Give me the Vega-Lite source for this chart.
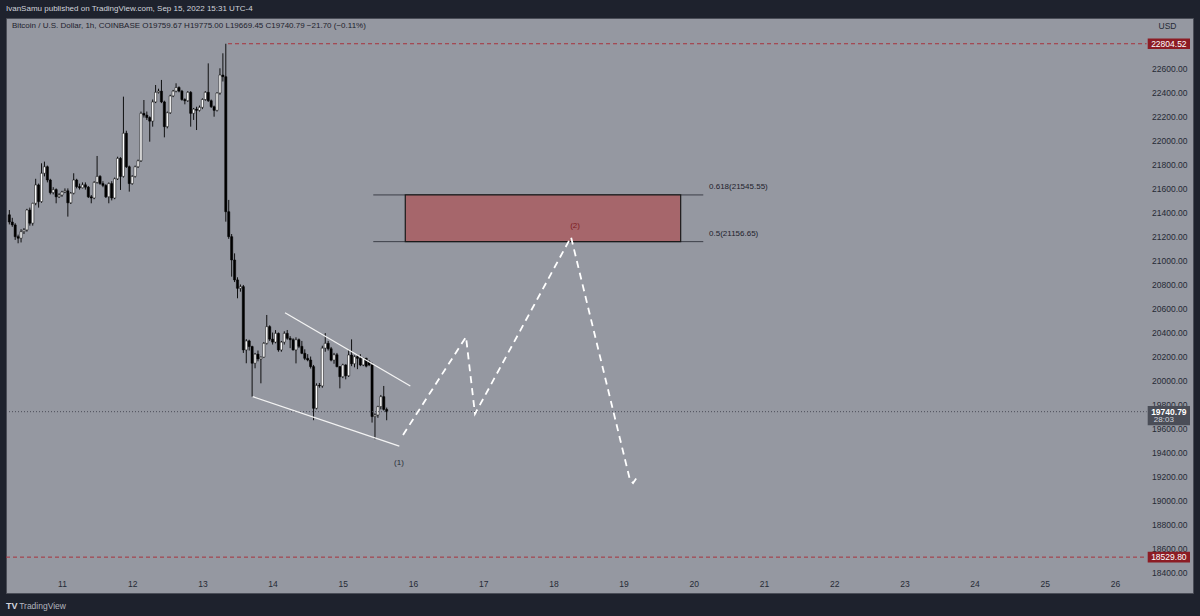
{
"$schema": "https://vega.github.io/schema/vega-lite/v6.json",
"width": 1187, "height": 575,
"autosize": {"type": "none"},
"padding": {"left": 6, "top": 18, "right": 7, "bottom": 23},
"background": "#1e222d",
"title": {"text": "IvanSamu published on TradingView.com, Sep 15, 2022 15:31 UTC-4", "anchor": "start", "frame": "group", "offset": 5, "fontSize": 8, "fontWeight": "normal", "color": "#d1d4dc", "font": "Liberation Sans"},
"config": {
  "view": {"fill": "#9598a1", "stroke": "#4a4d57"},
  "font": "Liberation Sans",
  "axis": {"grid": false, "domain": false, "ticks": false, "labelFont": "Liberation Sans", "labelFontSize": 8.5, "labelColor": "#262a35", "labelOverlap": false, "labelFlush": false, "title": null},
  "text": {"font": "Liberation Sans", "fontSize": 8}
},
"datasets": {
  "candles": [
    {"t":10.2500,"o":21380,"h":21420,"l":21300,"c":21320},
    {"t":10.2917,"o":21320,"h":21355,"l":21280,"c":21296},
    {"t":10.3333,"o":21296,"h":21310,"l":21171,"c":21198},
    {"t":10.3750,"o":21198,"h":21215,"l":21143,"c":21185},
    {"t":10.4167,"o":21185,"h":21260,"l":21150,"c":21240},
    {"t":10.4583,"o":21240,"h":21270,"l":21220,"c":21254},
    {"t":10.5000,"o":21254,"h":21430,"l":21240,"c":21420},
    {"t":10.5417,"o":21420,"h":21440,"l":21290,"c":21310},
    {"t":10.5833,"o":21310,"h":21480,"l":21290,"c":21476},
    {"t":10.6250,"o":21476,"h":21680,"l":21460,"c":21629},
    {"t":10.6667,"o":21629,"h":21640,"l":21440,"c":21490},
    {"t":10.7083,"o":21490,"h":21809,"l":21480,"c":21726},
    {"t":10.7500,"o":21726,"h":21823,"l":21700,"c":21780},
    {"t":10.7917,"o":21780,"h":21790,"l":21650,"c":21670},
    {"t":10.8333,"o":21670,"h":21680,"l":21550,"c":21565},
    {"t":10.8750,"o":21565,"h":21610,"l":21550,"c":21590},
    {"t":10.9167,"o":21590,"h":21600,"l":21476,"c":21530},
    {"t":10.9583,"o":21530,"h":21560,"l":21520,"c":21545},
    {"t":11.0000,"o":21545,"h":21580,"l":21530,"c":21570},
    {"t":11.0417,"o":21570,"h":21600,"l":21560,"c":21580},
    {"t":11.0833,"o":21580,"h":21600,"l":21365,"c":21480},
    {"t":11.1250,"o":21480,"h":21570,"l":21470,"c":21560},
    {"t":11.1667,"o":21560,"h":21726,"l":21550,"c":21670},
    {"t":11.2083,"o":21670,"h":21680,"l":21600,"c":21615},
    {"t":11.2500,"o":21615,"h":21640,"l":21590,"c":21605},
    {"t":11.2917,"o":21605,"h":21650,"l":21600,"c":21630},
    {"t":11.3333,"o":21630,"h":21650,"l":21590,"c":21610},
    {"t":11.3750,"o":21610,"h":21620,"l":21520,"c":21530},
    {"t":11.4167,"o":21530,"h":21545,"l":21476,"c":21520},
    {"t":11.4583,"o":21520,"h":21660,"l":21510,"c":21650},
    {"t":11.5000,"o":21650,"h":21870,"l":21640,"c":21700},
    {"t":11.5417,"o":21700,"h":21710,"l":21630,"c":21640},
    {"t":11.5833,"o":21640,"h":21660,"l":21610,"c":21625},
    {"t":11.6250,"o":21625,"h":21635,"l":21520,"c":21530},
    {"t":11.6667,"o":21530,"h":21650,"l":21476,"c":21640},
    {"t":11.7083,"o":21640,"h":21660,"l":21500,"c":21520},
    {"t":11.7500,"o":21520,"h":21690,"l":21510,"c":21680},
    {"t":11.7917,"o":21680,"h":21864,"l":21670,"c":21850},
    {"t":11.8333,"o":21850,"h":21860,"l":21587,"c":21700},
    {"t":11.8750,"o":21700,"h":22364,"l":21690,"c":22059},
    {"t":11.9167,"o":22059,"h":22080,"l":21770,"c":21780},
    {"t":11.9583,"o":21780,"h":21790,"l":21573,"c":21640},
    {"t":12.0000,"o":21640,"h":21710,"l":21630,"c":21700},
    {"t":12.0417,"o":21700,"h":21790,"l":21690,"c":21780},
    {"t":12.0833,"o":21780,"h":21840,"l":21770,"c":21830},
    {"t":12.1250,"o":21830,"h":22240,"l":21820,"c":22225},
    {"t":12.1667,"o":22225,"h":22336,"l":22190,"c":22210},
    {"t":12.2083,"o":22210,"h":22240,"l":22170,"c":22190},
    {"t":12.2500,"o":22190,"h":22200,"l":21989,"c":22160},
    {"t":12.2917,"o":22160,"h":22340,"l":22114,"c":22320},
    {"t":12.3333,"o":22320,"h":22461,"l":22310,"c":22400},
    {"t":12.3750,"o":22400,"h":22430,"l":22390,"c":22410},
    {"t":12.4167,"o":22410,"h":22503,"l":22310,"c":22320},
    {"t":12.4583,"o":22320,"h":22330,"l":22025,"c":22114},
    {"t":12.5000,"o":22114,"h":22240,"l":22100,"c":22230},
    {"t":12.5417,"o":22230,"h":22380,"l":22220,"c":22370},
    {"t":12.5833,"o":22370,"h":22420,"l":22360,"c":22410},
    {"t":12.6250,"o":22410,"h":22475,"l":22400,"c":22440},
    {"t":12.6667,"o":22440,"h":22450,"l":22400,"c":22410},
    {"t":12.7083,"o":22410,"h":22420,"l":22330,"c":22340},
    {"t":12.7500,"o":22340,"h":22350,"l":22300,"c":22330},
    {"t":12.7917,"o":22330,"h":22410,"l":22320,"c":22400},
    {"t":12.8333,"o":22400,"h":22410,"l":22114,"c":22225},
    {"t":12.8750,"o":22225,"h":22270,"l":22170,"c":22260},
    {"t":12.9167,"o":22260,"h":22280,"l":22086,"c":22250},
    {"t":12.9583,"o":22250,"h":22290,"l":22240,"c":22275},
    {"t":13.0000,"o":22275,"h":22350,"l":22260,"c":22340},
    {"t":13.0417,"o":22340,"h":22410,"l":22330,"c":22400},
    {"t":13.0833,"o":22400,"h":22641,"l":22320,"c":22330},
    {"t":13.1250,"o":22330,"h":22340,"l":22270,"c":22280},
    {"t":13.1667,"o":22280,"h":22290,"l":22197,"c":22250},
    {"t":13.2083,"o":22250,"h":22400,"l":22240,"c":22394},
    {"t":13.2500,"o":22394,"h":22600,"l":22380,"c":22544},
    {"t":13.2917,"o":22544,"h":22725,"l":22490,"c":22530},
    {"t":13.3333,"o":22530,"h":22804.52,"l":21323,"c":21406},
    {"t":13.3750,"o":21406,"h":21504,"l":21180,"c":21198},
    {"t":13.4167,"o":21198,"h":21220,"l":20865,"c":21004},
    {"t":13.4583,"o":21004,"h":21059,"l":20820,"c":20838},
    {"t":13.5000,"o":20838,"h":20860,"l":20685,"c":20768},
    {"t":13.5417,"o":20768,"h":20800,"l":20740,"c":20782},
    {"t":13.5833,"o":20782,"h":20796,"l":20230,"c":20255},
    {"t":13.6250,"o":20255,"h":20345,"l":20144,"c":20330},
    {"t":13.6667,"o":20330,"h":20340,"l":20250,"c":20283},
    {"t":13.7083,"o":20283,"h":20290,"l":19866,"c":20144},
    {"t":13.7500,"o":20144,"h":20230,"l":20102,"c":20220},
    {"t":13.7917,"o":20220,"h":20250,"l":20160,"c":20180},
    {"t":13.8333,"o":20180,"h":20200,"l":19977,"c":20195},
    {"t":13.8750,"o":20195,"h":20320,"l":20190,"c":20310},
    {"t":13.9167,"o":20310,"h":20546,"l":20300,"c":20449},
    {"t":13.9583,"o":20449,"h":20460,"l":20330,"c":20345},
    {"t":14.0000,"o":20345,"h":20400,"l":20300,"c":20320},
    {"t":14.0417,"o":20320,"h":20420,"l":20310,"c":20393},
    {"t":14.0833,"o":20393,"h":20400,"l":20240,"c":20255},
    {"t":14.1250,"o":20255,"h":20330,"l":20240,"c":20320},
    {"t":14.1667,"o":20320,"h":20410,"l":20300,"c":20393},
    {"t":14.2083,"o":20393,"h":20421,"l":20340,"c":20352},
    {"t":14.2500,"o":20352,"h":20370,"l":20270,"c":20340},
    {"t":14.2917,"o":20340,"h":20352,"l":20250,"c":20255},
    {"t":14.3333,"o":20255,"h":20360,"l":20143,"c":20340},
    {"t":14.3750,"o":20340,"h":20350,"l":20270,"c":20285},
    {"t":14.4167,"o":20285,"h":20330,"l":20220,"c":20227},
    {"t":14.4583,"o":20227,"h":20260,"l":20170,"c":20185},
    {"t":14.5000,"o":20185,"h":20220,"l":20160,"c":20171},
    {"t":14.5417,"o":20171,"h":20200,"l":20100,"c":20116},
    {"t":14.5833,"o":20116,"h":20130,"l":19670,"c":19769},
    {"t":14.6250,"o":19769,"h":19977,"l":19760,"c":19960},
    {"t":14.6667,"o":19960,"h":19980,"l":19940,"c":19955},
    {"t":14.7083,"o":19955,"h":20290,"l":19940,"c":20270},
    {"t":14.7500,"o":20270,"h":20395,"l":20240,"c":20310},
    {"t":14.7917,"o":20310,"h":20330,"l":20250,"c":20265},
    {"t":14.8333,"o":20265,"h":20280,"l":20160,"c":20170},
    {"t":14.8750,"o":20170,"h":20230,"l":20140,"c":20215},
    {"t":14.9167,"o":20215,"h":20230,"l":20110,"c":20116},
    {"t":14.9583,"o":20116,"h":20120,"l":19935,"c":20032},
    {"t":15.0000,"o":20032,"h":20140,"l":20020,"c":20130},
    {"t":15.0417,"o":20130,"h":20135,"l":20010,"c":20040},
    {"t":15.0833,"o":20040,"h":20255,"l":20030,"c":20213},
    {"t":15.1250,"o":20213,"h":20343,"l":20120,"c":20140},
    {"t":15.1667,"o":20140,"h":20210,"l":20110,"c":20199},
    {"t":15.2083,"o":20199,"h":20215,"l":20095,"c":20185},
    {"t":15.2500,"o":20185,"h":20220,"l":20120,"c":20130},
    {"t":15.2917,"o":20130,"h":20190,"l":20120,"c":20185},
    {"t":15.3333,"o":20185,"h":20190,"l":20110,"c":20120},
    {"t":15.3750,"o":20157,"h":20170,"l":20120,"c":20130},
    {"t":15.4167,"o":20130,"h":20150,"l":19650,"c":19700},
    {"t":15.4583,"o":19700,"h":19727,"l":19511,"c":19713},
    {"t":15.5000,"o":19713,"h":19790,"l":19690,"c":19783},
    {"t":15.5417,"o":19783,"h":19880,"l":19760,"c":19866},
    {"t":15.5833,"o":19866,"h":19955,"l":19750,"c":19760},
    {"t":15.6250,"o":19759.67,"h":19775,"l":19669.45,"c":19740.79}
  ],
  "levels": [
    {"p": 22804.52, "t0": 13.365, "t1": 26.45, "label": "22804.52"},
    {"p": 18529.80, "t0": 10.2023, "t1": 26.45, "label": "18529.80"}
  ],
  "last": [
    {"p": 19740.79, "t0": 10.2023, "t1": 26.45, "label": "19740.79", "timer": "28:03"}
  ],
  "channel": [
    {"t0": 14.177, "p0": 20565, "t1": 15.962, "p1": 19955},
    {"t0": 13.717, "p0": 19866, "t1": 15.805, "p1": 19455}
  ],
  "fib": [
    {"p": 21545.55, "t0": 15.434, "t1": 20.135, "label": "0.618(21545.55)"},
    {"p": 21156.65, "t0": 15.434, "t1": 20.135, "label": "0.5(21156.65)"}
  ],
  "zone": [
    {"t0": 15.890, "t1": 19.813, "p0": 21156.65, "p1": 21545.55}
  ],
  "wave": [
    {"k": 0, "t": 15.858, "p": 19547},
    {"k": 1, "t": 16.755, "p": 20363},
    {"k": 2, "t": 16.883, "p": 19722},
    {"k": 3, "t": 18.251, "p": 21195},
    {"k": 4, "t": 19.091, "p": 19172},
    {"k": 5, "t": 19.134, "p": 19147},
    {"k": 6, "t": 19.205, "p": 19205}
  ],
  "waveLabels": [
    {"t": 15.800, "p": 19314, "label": "(1)"},
    {"t": 18.308, "p": 21287, "label": "(2)"}
  ],
  "header": [
    {"label": "Bitcoin / U.S. Dollar, 1h, COINBASE  O19759.67  H19775.00  L19669.45  C19740.79  −21.70 (−0.11%)"}
  ]
},
"layer": [
  {
    "data": {"name": "candles"},
    "mark": {"type": "rule", "color": "#000000", "strokeWidth": 0.9},
    "encoding": {
      "x": {"field": "t", "type": "quantitative", "title": null,
            "scale": {"domain": [10.2023, 27.111], "nice": false, "zero": false, "padding": 0},
            "axis": {"orient": "bottom", "values": [11,12,13,14,15,16,17,18,19,20,21,22,23,24,25,26], "tickCount": 40, "format": "d", "offset": -14, "labelPadding": 0, "labelBaseline": "top", "labelOverlap": false, "title": null}},
      "y": {"field": "l", "type": "quantitative", "title": null,
            "scale": {"domain": [18231.1, 23018.8], "nice": false, "zero": false, "padding": 0},
            "axis": {"orient": "right", "values": [18400,18600,18800,19000,19200,19400,19600,19800,20000,20200,20400,20600,20800,21000,21200,21400,21600,21800,22000,22200,22400,22600], "tickCount": 40, "format": ".2f", "offset": -6, "labelPadding": 0, "labelAlign": "right", "labelBaseline": "middle", "labelOverlap": false, "labelBound": false, "title": null}},
      "y2": {"field": "h"}
    }
  },
  {
    "data": {"name": "candles"},
    "mark": {"type": "bar", "orient": "vertical", "size": 2.2, "stroke": "#000000", "strokeWidth": 0.5},
    "encoding": {
      "x": {"field": "t", "type": "quantitative", "title": null},
      "y": {"field": "o", "type": "quantitative", "title": null},
      "y2": {"field": "c"},
      "fill": {"condition": {"test": "datum.c >= datum.o", "value": "#ffffff"}, "value": "#000000"}
    }
  },
  {
    "data": {"name": "levels"},
    "mark": {"type": "rule", "color": "#a8323b", "strokeWidth": 1, "strokeDash": [4, 3]},
    "encoding": {
      "x": {"field": "t0", "type": "quantitative", "title": null},
      "x2": {"field": "t1"},
      "y": {"field": "p", "type": "quantitative", "title": null}
    }
  },
  {
    "data": {"name": "last"},
    "mark": {"type": "rule", "color": "#4a4d57", "strokeWidth": 1, "strokeDash": [1, 2]},
    "encoding": {
      "x": {"field": "t0", "type": "quantitative", "title": null},
      "x2": {"field": "t1"},
      "y": {"field": "p", "type": "quantitative", "title": null}
    }
  },
  {
    "data": {"name": "channel"},
    "mark": {"type": "rule", "color": "#f4f4f4", "strokeWidth": 1.3},
    "encoding": {
      "x": {"field": "t0", "type": "quantitative", "title": null},
      "x2": {"field": "t1"},
      "y": {"field": "p0", "type": "quantitative", "title": null},
      "y2": {"field": "p1"}
    }
  },
  {
    "data": {"name": "fib"},
    "mark": {"type": "rule", "color": "#3c3f48", "strokeWidth": 1},
    "encoding": {
      "x": {"field": "t0", "type": "quantitative", "title": null},
      "x2": {"field": "t1"},
      "y": {"field": "p", "type": "quantitative", "title": null}
    }
  },
  {
    "data": {"name": "zone"},
    "mark": {"type": "rect", "fill": "#a6666b", "stroke": "#1a1a1a", "strokeWidth": 1.2},
    "encoding": {
      "x": {"field": "t0", "type": "quantitative", "title": null},
      "x2": {"field": "t1"},
      "y": {"field": "p0", "type": "quantitative", "title": null},
      "y2": {"field": "p1"}
    }
  },
  {
    "data": {"name": "fib"},
    "mark": {"type": "text", "align": "left", "baseline": "middle", "dy": -8, "color": "#1e222d", "fontSize": 8},
    "encoding": {
      "x": {"datum": 20.217, "type": "quantitative", "title": null},
      "y": {"field": "p", "type": "quantitative", "title": null},
      "text": {"field": "label"}
    }
  },
  {
    "data": {"name": "wave"},
    "mark": {"type": "line", "color": "#ffffff", "strokeWidth": 1.8, "strokeDash": [7, 5]},
    "encoding": {
      "x": {"field": "t", "type": "quantitative", "title": null},
      "y": {"field": "p", "type": "quantitative", "title": null},
      "order": {"field": "k"}
    }
  },
  {
    "data": {"name": "waveLabels"},
    "mark": {"type": "text", "align": "center", "baseline": "middle", "fontSize": 8},
    "encoding": {
      "x": {"field": "t", "type": "quantitative", "title": null},
      "y": {"field": "p", "type": "quantitative", "title": null},
      "text": {"field": "label"},
      "color": {"field": "label", "type": "nominal", "scale": {"domain": ["(1)", "(2)"], "range": ["#2a2e39", "#7d1b22"]}, "legend": null}
    }
  },
  {
    "data": {"name": "header"},
    "mark": {"type": "text", "align": "left", "baseline": "middle", "color": "#1e222d", "fontSize": 8},
    "encoding": {
      "x": {"datum": 10.288, "type": "quantitative", "title": null},
      "y": {"datum": 22952, "type": "quantitative", "title": null},
      "text": {"field": "label"}
    }
  },
  {
    "data": {"values": [{"label": "USD"}]},
    "mark": {"type": "text", "align": "left", "baseline": "middle", "color": "#262a35", "fontSize": 8.5},
    "encoding": {
      "x": {"datum": 26.62, "type": "quantitative", "title": null},
      "y": {"datum": 22952, "type": "quantitative", "title": null},
      "text": {"field": "label"}
    }
  },
  {
    "data": {"name": "levels"},
    "mark": {"type": "point", "shape": "M-1,-0.25L1,-0.25L1,0.25L-1,0.25Z", "filled": true, "fill": "#8c1c24", "opacity": 1, "size": 1789, "strokeWidth": 0},
    "encoding": {
      "x": {"datum": 26.767, "type": "quantitative", "title": null},
      "y": {"field": "p", "type": "quantitative", "title": null}
    }
  },
  {
    "data": {"name": "last"},
    "mark": {"type": "point", "shape": "M-1,-0.27L1,-0.27L1,0.64L-1,0.64Z", "filled": true, "fill": "#4a4d57", "opacity": 1, "size": 1789, "strokeWidth": 0},
    "encoding": {
      "x": {"datum": 26.767, "type": "quantitative", "title": null},
      "y": {"field": "p", "type": "quantitative", "title": null}
    }
  },
  {
    "data": {"name": "levels"},
    "mark": {"type": "text", "align": "center", "baseline": "middle", "color": "#ffffff", "fontSize": 8.5},
    "encoding": {
      "x": {"datum": 26.767, "type": "quantitative", "title": null},
      "y": {"field": "p", "type": "quantitative", "title": null},
      "text": {"field": "label"}
    }
  },
  {
    "data": {"name": "last"},
    "mark": {"type": "text", "align": "center", "baseline": "middle", "color": "#ffffff", "fontSize": 8.5, "fontWeight": "bold"},
    "encoding": {
      "x": {"datum": 26.767, "type": "quantitative", "title": null},
      "y": {"field": "p", "type": "quantitative", "title": null},
      "text": {"field": "label"}
    }
  },
  {
    "data": {"name": "last"},
    "mark": {"type": "text", "align": "center", "baseline": "middle", "dy": 8.5, "dx": -5, "color": "#d1d4dc", "fontSize": 8},
    "encoding": {
      "x": {"datum": 26.767, "type": "quantitative", "title": null},
      "y": {"field": "p", "type": "quantitative", "title": null},
      "text": {"field": "timer"}
    }
  },
  {
    "data": {"values": [{"label": "TV"}]},
    "mark": {"type": "text", "align": "left", "baseline": "middle", "color": "#d1d4dc", "fontSize": 9, "fontWeight": "bold"},
    "encoding": {
      "x": {"datum": 10.2023, "type": "quantitative", "title": null},
      "y": {"datum": 18123, "type": "quantitative", "title": null},
      "text": {"field": "label"}
    }
  },
  {
    "data": {"values": [{"label": "TradingView"}]},
    "mark": {"type": "text", "align": "left", "baseline": "middle", "color": "#b2b5be", "fontSize": 8.5},
    "encoding": {
      "x": {"datum": 10.390, "type": "quantitative", "title": null},
      "y": {"datum": 18123, "type": "quantitative", "title": null},
      "text": {"field": "label"}
    }
  }
]
}
